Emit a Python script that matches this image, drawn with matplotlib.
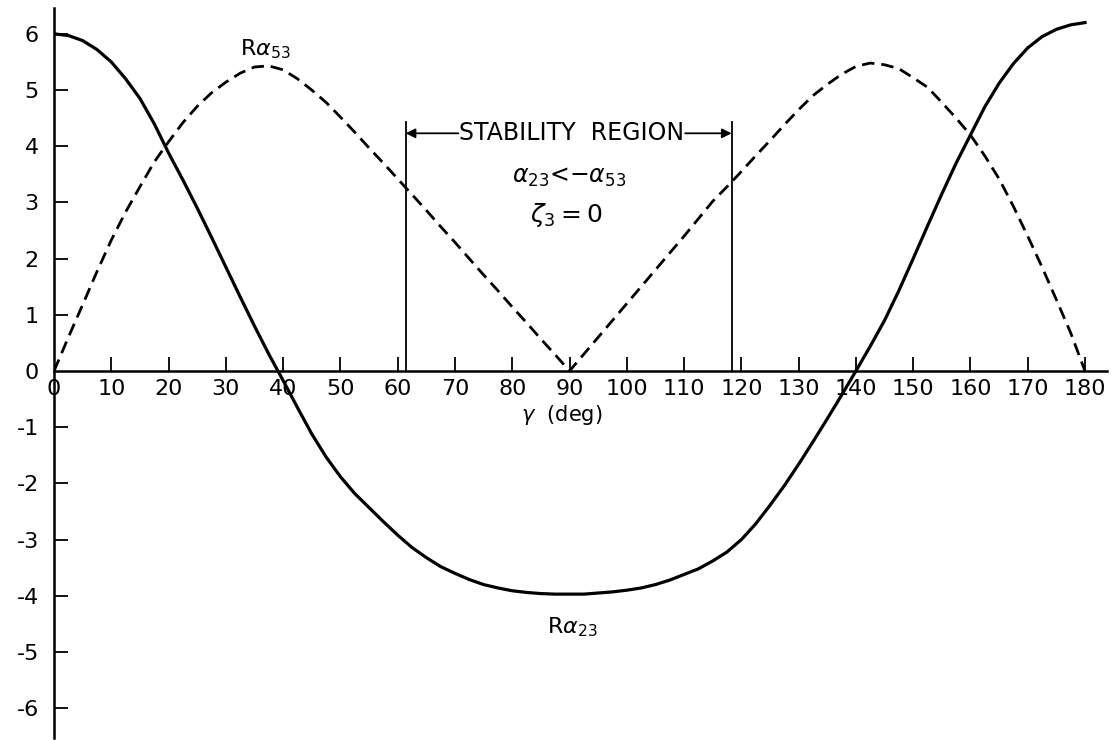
import matplotlib.pyplot as plt
import numpy as np

plt.rcParams['font.family'] = 'DejaVu Sans'
plt.rcParams['axes.unicode_minus'] = False

# values, every 2.5 deg
gamma = np.arange(0, 180.1, 2.5)
ra23 = [6.0, 5.97, 5.88, 5.72, 5.5, 5.2, 4.85, 4.4, 3.88, 3.4, 2.9, 2.38,
        1.85, 1.32, 0.8, 0.3, -0.17, -0.65, -1.12, -1.53, -1.88, -2.18, -2.43,
        -2.68, -2.92, -3.14, -3.32, -3.48, -3.6, -3.71, -3.8, -3.86, -3.91,
        -3.94, -3.96, -3.97, -3.97, -3.97, -3.95, -3.93, -3.9, -3.86, -3.8,
        -3.72, -3.62, -3.52, -3.38, -3.22, -3.0, -2.72, -2.39, -2.04, -1.66,
        -1.26, -0.85, -0.43, 0.0, 0.44, 0.9, 1.43, 2.0, 2.58, 3.15, 3.7, 4.2,
        4.7, 5.12, 5.47, 5.75, 5.95, 6.08, 6.16, 6.2]
ra53 = [0.0, 0.6, 1.18, 1.77, 2.33, 2.83, 3.28, 3.72, 4.08, 4.42, 4.71, 4.95,
        5.14, 5.3, 5.41, 5.43, 5.36, 5.2, 5.0, 4.78, 4.52, 4.25, 3.97, 3.7,
        3.42, 3.14, 2.86, 2.57, 2.29, 2.0, 1.71, 1.43, 1.14, 0.86, 0.57, 0.29,
        0.0, 0.3, 0.6, 0.9, 1.2, 1.5, 1.8, 2.1, 2.4, 2.71, 3.02, 3.28, 3.55,
        3.83, 4.1, 4.38, 4.65, 4.9, 5.1, 5.28, 5.42, 5.48, 5.45, 5.38, 5.22,
        5.05, 4.78, 4.5, 4.2, 3.83, 3.42, 2.93, 2.4, 1.85, 1.27, 0.68, 0.0]

x_ticks = np.arange(10, 181, 10)
y_ticks = [-6, -5, -4, -3, -2, -1, 1, 2, 3, 4, 5, 6]
region = [61.4, 118.3]

fig = plt.figure(figsize=(11.14, 7.40), dpi=100)
ax = fig.add_axes([0.0485, 0.0027, 0.945, 0.9865])

ax.plot(gamma, ra23, color='black', lw=2.3, solid_joinstyle='round')
ax.plot(gamma, ra53, color='black', lw=2.0, dashes=(4.5, 2.5))

for g in region:
    ax.plot([g, g], [0, 4.43], color='black', lw=1.3)

ax.set_xlim(0, 183.8)
ax.set_ylim(-6.53, 6.46)

for s in ['top', 'right']:
    ax.spines[s].set_visible(False)
ax.spines['bottom'].set_position(('data', 0))
ax.spines['left'].set_position(('data', 0))
ax.spines['bottom'].set_linewidth(1.8)
ax.spines['left'].set_linewidth(1.8)

ax.set_xticks(np.concatenate([[0], x_ticks]))
ax.set_xticklabels(['0'] + [str(t) for t in x_ticks])
ax.set_yticks([0] + y_ticks)
ax.set_yticklabels(['0'] + [str(t) for t in y_ticks])
ax.tick_params(axis='x', direction='in', length=10, width=1.3, pad=6,
               labelsize=16)
ax.tick_params(axis='y', direction='in', length=10, width=1.3, pad=11,
               labelsize=16)
ax.xaxis.get_major_ticks()[0].tick1line.set_visible(False)
ax.yaxis.get_major_ticks()[0].tick1line.set_visible(False)

ax.text(88.7, -0.78, r'$\gamma$  (deg)', fontsize=15, ha='center', va='center')

ax.text(32.5, 5.72, r'R$\alpha_{53}$', fontsize=16, ha='left', va='center')
ax.text(90.5, -4.55, r'R$\alpha_{23}$', fontsize=16, ha='center', va='center')

ax.text(90.3, 4.23, 'STABILITY  REGION', fontsize=17, ha='center', va='center')
ax.annotate('', xy=(region[0], 4.23), xytext=(70.6, 4.23),
            arrowprops=dict(arrowstyle='-|>', color='black', lw=1.3,
                            mutation_scale=14, shrinkA=0, shrinkB=0))
ax.annotate('', xy=(region[1], 4.23), xytext=(110.2, 4.23),
            arrowprops=dict(arrowstyle='-|>', color='black', lw=1.3,
                            mutation_scale=14, shrinkA=0, shrinkB=0))
ax.text(90, 3.45, r'$\alpha_{23}$<$-\alpha_{53}$', fontsize=17,
        ha='center', va='center')
ax.text(89.5, 2.78, r'$\zeta_3$$=$0', fontsize=18, ha='center', va='center')

fig.savefig('out.png', dpi=100)
